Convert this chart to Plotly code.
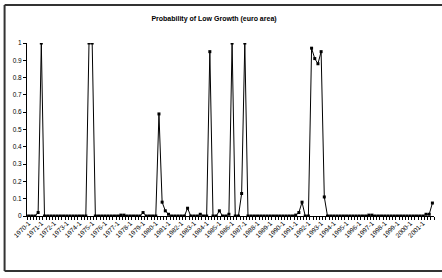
import plotly.graph_objects as go

# Quarterly categories 1970-1 .. 2001-4
years = list(range(1970, 2002))
quarters = [1, 2, 3, 4]
categories = [f"{y}-{q}" for y in years for q in quarters]

prob_low_growth = [
    0, 0, 0, 0.02, 1.0, 0, 0, 0, 0, 0,
    0, 0, 0, 0, 0, 0, 0, 0, 0, 1.0,
    1.0, 0, 0, 0, 0, 0, 0, 0, 0, 0.005,
    0.005, 0, 0, 0, 0, 0, 0.02, 0, 0, 0,
    0, 0.59, 0.08, 0.03, 0.01, 0, 0, 0, 0, 0,
    0.045, 0, 0, 0, 0.01, 0, 0, 0.95, 0, 0,
    0.03, 0, 0, 0.01, 1.0, 0, 0, 0.13, 1.0, 0,
    0, 0, 0, 0, 0, 0, 0, 0, 0, 0,
    0, 0, 0, 0, 0.005, 0.02, 0.08, 0, 0, 0.97,
    0.91, 0.88, 0.95, 0.11, 0, 0, 0, 0, 0, 0,
    0, 0, 0, 0, 0, 0, 0, 0.005, 0.005, 0,
    0, 0, 0, 0, 0, 0, 0, 0, 0, 0,
    0, 0, 0, 0, 0, 0.01, 0.01, 0.075,
]

tick_labels = [f"{y}-1" for y in years]
y_ticks = [round(0.1 * k, 1) for k in range(11)]

x_idx = list(range(len(categories)))

fig = go.Figure()
fig.add_trace(go.Scatter(
    x=x_idx, y=prob_low_growth,
    mode="lines+markers",
    line=dict(color="black", width=1),
    marker=dict(symbol="square", size=3, color="black"),
    hoverinfo="skip",
    showlegend=False,
))

L, R, T, B = 27.4, 7.9, 43, 62
W = 442 - L - R
H = 278 - T - B

bx0, bx1 = (5 - L) / W, (445 - L) / W
by0, by1 = (T + H - 271) / H, (T + H - 5) / H
border = dict(color="#333333", width=2)
shapes = [
    dict(type="line", xref="paper", yref="paper", x0=bx0, x1=bx0, y0=by0, y1=by1, line=border, layer="below"),
    dict(type="line", xref="paper", yref="paper", x0=bx0, x1=bx1, y0=by1, y1=by1, line=border, layer="below"),
    dict(type="line", xref="paper", yref="paper", x0=bx0, x1=bx1, y0=by0, y1=by0, line=border, layer="below"),
]

fig.update_layout(
    width=442, height=278,
    margin=dict(l=L, r=R, t=T, b=B, autoexpand=False),
    paper_bgcolor="white", plot_bgcolor="white",
    font=dict(family="Liberation Sans, Arial", color="black", size=6.5),
    title=dict(text="<b>Probability of Low Growth (euro area)</b>",
               x=214 / 442, xanchor="center", y=1 - 19 / 278, yanchor="middle",
               font=dict(size=7, family="Liberation Sans, Arial", color="black")),
    xaxis=dict(
        range=[-0.5, len(categories) - 0.5],
        tickmode="array",
        tickvals=[x_idx[categories.index(t)] for t in tick_labels],
        ticktext=tick_labels,
        tickangle=-45,
        ticks="", ticklen=0,
        showline=True, linecolor="black", linewidth=1,
        showgrid=False, zeroline=False,
        tickfont=dict(size=6.5),
        minor=dict(ticks="outside", ticklen=3, tickwidth=1, tickcolor="black",
                   dtick=1, tick0=-0.5, showgrid=False),
        fixedrange=True,
    ),
    yaxis=dict(
        range=[0, 1],
        tickmode="array",
        tickvals=y_ticks,
        ticktext=[("%g" % v) for v in y_ticks],
        ticks="outside", ticklen=3, tickwidth=1, tickcolor="black",
        showline=True, linecolor="black", linewidth=1,
        showgrid=False, zeroline=False,
        tickfont=dict(size=6.5),
        fixedrange=True,
    ),
    shapes=shapes,
)

fig.write_html(
    "out.html",
    config={"displayModeBar": False},
    post_script="document.body.style.margin='0';document.body.style.overflow='hidden';",
)
